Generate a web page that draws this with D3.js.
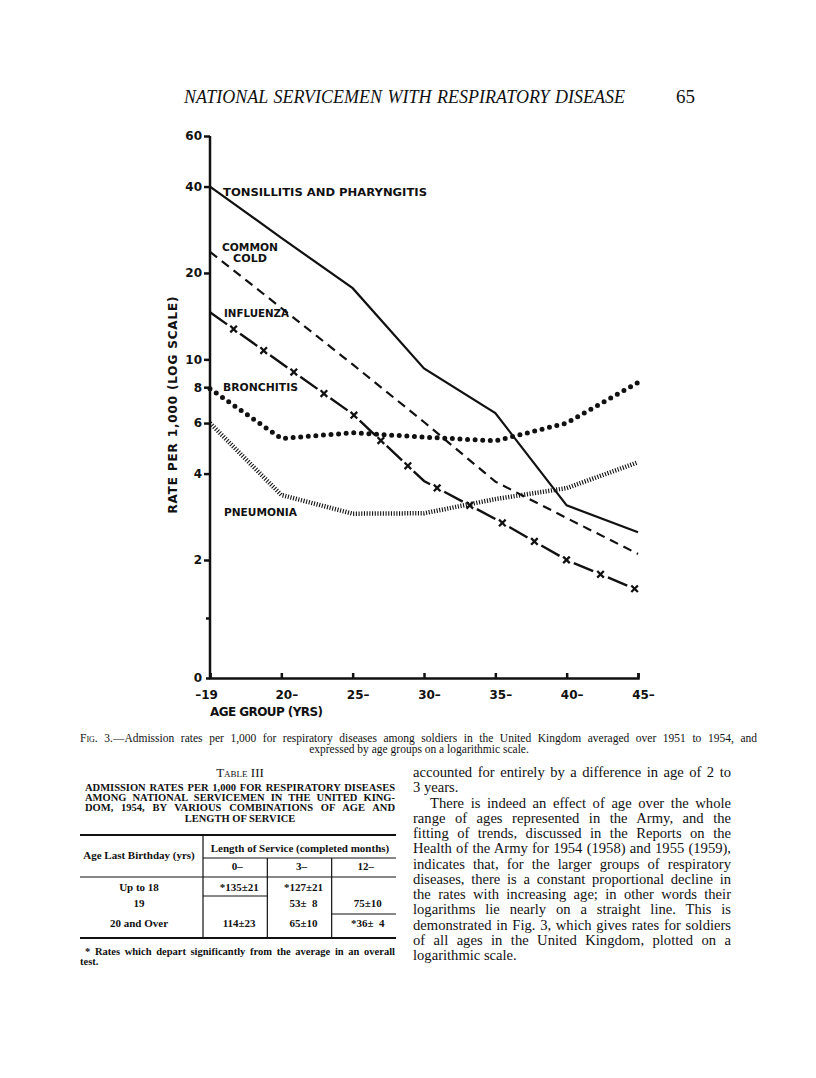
<!DOCTYPE html>
<html>
<head>
<meta charset="utf-8">
<script src="https://cdn.jsdelivr.net/npm/d3@7"></script>
<style>
  body { margin: 0; background: #fff; }
  svg text { fill: #111; }
  .sans { font-family: "DejaVu Sans", "Liberation Sans", sans-serif; font-weight: bold; }
  .serif { font-family: "Liberation Serif", "DejaVu Serif", serif; }
</style>
</head>
<body>
<svg id="page" width="816" height="1078"></svg>
<script>
// chart data
const ageGroups = ["-19", "20-", "25-", "30-", "35-", "40-", "45-"];
const tonsillitis = [40, 26.5, 17.7, 9.3, 6.5, 3.1, 2.5];
const commonCold = [23.7, 15.1, 9.6, 6.05, 3.75, 2.8, 2.1];
const influenza = [14.6, 9.7, 6.45, 3.77, 2.78, 2.0, 1.57];
const bronchitis = [7.9, 5.3, 5.55, 5.36, 5.2, 6.0, 8.3];
const pneumonia = [6.0, 3.37, 2.9, 2.91, 3.26, 3.56, 4.38];

const yTicks = [2, 4, 6, 8, 10, 20, 40, 60];
const lowTicks = [0, 1];
const lowLabels = ["0", ""];

// table III
const serviceCols = ["0\u2013", "3\u2013", "12\u2013"];
const ageRows = ["Up to 18", "19", "20 and Over"];
const tableCells = [
  ["*135\u00b121", "*127\u00b121", ""],
  ["", "53\u00b1\u20078", "75\u00b110"],
  ["114\u00b123", "65\u00b110", "*36\u00b1\u20074"]
];

const headingLines = [
  "ADMISSION RATES PER 1,000 FOR RESPIRATORY DISEASES",
  "AMONG NATIONAL SERVICEMEN IN THE UNITED KING-",
  "DOM, 1954, BY VARIOUS COMBINATIONS OF AGE AND",
  "LENGTH OF SERVICE"
];

const bodyLines = [
  "accounted for entirely by a difference in age of 2 to",
  "3 years.",
  "There is indeed an effect of age over the whole",
  "range of ages represented in the Army, and the",
  "fitting of trends, discussed in the Reports on the",
  "Health of the Army for 1954 (1958) and 1955 (1959),",
  "indicates that, for the larger groups of respiratory",
  "diseases, there is a constant proportional decline in",
  "the rates with increasing age; in other words their",
  "logarithms lie nearly on a straight line. This is",
  "demonstrated in Fig. 3, which gives rates for soldiers",
  "of all ages in the United Kingdom, plotted on a",
  "logarithmic scale."
];

const svg = d3.select("#page");

// stretch word gaps so a line fills its measure
function justify(sel, width) {
  sel.each(function() {
    const t = d3.select(this);
    const len = this.getComputedTextLength();
    const gaps = (t.text().match(/ /g) || []).length;
    if (gaps) t.style("word-spacing", ((width - len) / gaps) + "px");
  });
}

// ---------- running head ----------
svg.append("text").attr("class", "serif")
  .attr("x", 184).attr("y", 103)
  .style("font-style", "italic").style("font-size", "18px")
  .text("NATIONAL SERVICEMEN WITH RESPIRATORY DISEASE")
  .call(justify, 441);
svg.append("text").attr("class", "serif")
  .attr("x", 676).attr("y", 103).style("font-size", "19px")
  .text("65");

// ---------- chart ----------
const x = d3.scalePoint().domain(ageGroups).range([210, 638]);
const y = d3.scaleLog().domain([2, 60]).range([560, 136]);
const yLow = d3.scaleLinear().domain([0, 1]).range([678, 618]);

const chart = svg.append("g").attr("class", "sans");

const gx = chart.append("g")
  .attr("transform", `translate(0,${yLow(0)})`)
  .call(d3.axisBottom(x).tickSize(-5).tickPadding(12)
    .tickFormat(d => d.replace("-", "\u2013")));
gx.selectAll("text")
  .style("font-size", "12px").style("font-family", "DejaVu Sans").style("font-weight", "bold")
  .attr("dx", d => d.startsWith("-") ? -4 : 5);

const gy = chart.append("g")
  .attr("transform", `translate(${x(ageGroups[0])},0)`)
  .call(d3.axisLeft(y).tickValues(yTicks).tickFormat(d3.format("d")).tickSize(6).tickPadding(2));
gy.select(".domain").remove();

const gyLow = chart.append("g")
  .attr("transform", `translate(${x(ageGroups[0])},0)`)
  .call(d3.axisLeft(yLow).tickValues(lowTicks).tickFormat((d, i) => lowLabels[i]).tickSize(4).tickPadding(4));
gyLow.select(".domain").remove();

chart.append("line")
  .attr("x1", x(ageGroups[0])).attr("x2", x(ageGroups[0]))
  .attr("y1", y(60)).attr("y2", yLow(0))
  .attr("stroke", "#111").attr("stroke-width", 2.5);

chart.selectAll(".tick line, .domain").attr("stroke", "#111").attr("stroke-width", 2.5);
chart.selectAll(".tick text").attr("fill", "#111");
gy.selectAll("text").style("font-size", "12px").style("font-family", "DejaVu Sans").style("font-weight", "bold");
gyLow.selectAll("text").style("font-size", "12px").style("font-family", "DejaVu Sans").style("font-weight", "bold");

const line = d3.line().x((d, i) => x(ageGroups[i])).y(d => y(d));

const series = [
  { values: tonsillitis, width: 2.2, dash: null, cap: "butt" },
  { values: commonCold, width: 2.2, dash: "9 6", cap: "butt" },
  { values: influenza, width: 2.4, dash: "21 16", cap: "butt" },
  { values: bronchitis, width: 5, dash: "0 7.6", cap: "round" },
  { values: pneumonia, width: 4.5, dash: "1.1 1.6", cap: "butt" }
];

const paths = chart.selectAll(".series")
  .data(series).enter().append("path")
  .attr("class", "series")
  .attr("d", d => line(d.values))
  .attr("fill", "none")
  .attr("stroke", "#111")
  .attr("stroke-width", d => d.width)
  .attr("stroke-dasharray", d => d.dash)
  .attr("stroke-linecap", d => d.cap);

// crosses along the influenza line, sitting in the dash gaps
const fluPath = paths.filter((d, i) => i === 2).node();
const fluLen = fluPath.getTotalLength();
const crossAt = d3.range(29, fluLen + 2, 37);
chart.selectAll(".cross")
  .data(crossAt).enter().append("path")
  .attr("class", "cross")
  .attr("transform", d => {
    const p = fluPath.getPointAtLength(Math.min(d, fluLen));
    return `translate(${p.x},${p.y})`;
  })
  .attr("d", "M-3.3,-3.3L3.3,3.3M-3.3,3.3L3.3,-3.3")
  .attr("stroke", "#111").attr("stroke-width", 2.3);

// series labels
const x0 = x(ageGroups[0]);
const labels = [
  { text: "TONSILLITIS AND PHARYNGITIS", dx: 13, yy: y(40) + 9.5, len: 204 },
  { text: "COMMON", dx: 12, yy: y(commonCold[0]) - 1, len: 56 },
  { text: "COLD", dx: 23, yy: y(commonCold[0]) + 10, len: 34 },
  { text: "INFLUENZA", dx: 14, yy: y(influenza[0]) + 5, len: 65 },
  { text: "BRONCHITIS", dx: 13, yy: y(8) + 4, len: 75 },
  { text: "PNEUMONIA", dx: 14, yy: y(2.94) + 4, len: 73 }
];
chart.selectAll(".lab")
  .data(labels).enter().append("text")
  .attr("class", "lab")
  .attr("x", d => x0 + d.dx).attr("y", d => d.yy)
  .attr("textLength", d => d.len).attr("lengthAdjust", "spacingAndGlyphs")
  .style("font-size", "11px")
  .text(d => d.text);

// axis titles
chart.append("text")
  .attr("transform", `translate(177,${(y(60) + yLow(0)) / 2 - 2}) rotate(-90)`)
  .attr("text-anchor", "middle")
  .attr("textLength", 217).attr("lengthAdjust", "spacing")
  .style("font-size", "12px")
  .text("RATE PER 1,000 (LOG SCALE)");

chart.append("text")
  .attr("x", x0).attr("y", 716)
  .attr("textLength", 113).attr("lengthAdjust", "spacing")
  .style("font-size", "12px")
  .text("AGE GROUP (YRS)");

// ---------- caption ----------
const cap1 = svg.append("text").attr("class", "serif")
  .attr("x", 80).attr("y", 742).style("font-size", "11.5px");
cap1.append("tspan").style("font-variant", "small-caps").text("Fig. 3.");
cap1.append("tspan").text("\u2014Admission rates per 1,000 for respiratory diseases among soldiers in the United Kingdom averaged over 1951 to 1954, and");
cap1.call(justify, 677);
svg.append("text").attr("class", "serif")
  .attr("x", 419).attr("y", 753).attr("text-anchor", "middle")
  .style("font-size", "11.5px")
  .text("expressed by age groups on a logarithmic scale.");

// ---------- table III ----------
svg.append("text").attr("class", "serif")
  .attr("x", 240).attr("y", 777).attr("text-anchor", "middle")
  .style("font-size", "13px").style("font-variant", "small-caps")
  .text("Table III");

svg.selectAll(".head")
  .data(headingLines).enter().append("text")
  .attr("class", "serif head")
  .attr("x", (d, i) => i === 3 ? 240 : 85)
  .attr("y", (d, i) => 791 + i * 10.2)
  .attr("text-anchor", (d, i) => i === 3 ? "middle" : "start")
  .style("font-size", "10.5px").style("font-weight", "bold")
  .text(d => d)
  .filter((d, i) => i < 3).call(justify, 310);

const tb = svg.append("g").attr("class", "serif")
  .style("font-size", "11px").style("font-weight", "bold");
const colX = d3.scaleBand().domain(serviceCols).range([203, 396]);
const rowY = d3.scaleOrdinal().domain(ageRows).range([891, 906.5, 927]);

const rule = (x1, x2, y1, y2, w) => tb.append("line")
  .attr("x1", x1).attr("x2", x2).attr("y1", y1).attr("y2", y2)
  .attr("stroke", "#111").attr("stroke-width", w);

rule(80, 396, 835, 835, 2.2);
rule(80, 396, 938, 938, 2.2);
rule(80, 396, 877, 877, 1);
rule(203, 396, 858, 858, 1);
rule(203, 203, 835, 938, 1.2);
serviceCols.slice(1).forEach(c => rule(colX(c), colX(c), 858, 938, 1.2));
rule(203, colX(serviceCols[1]), 896, 896, 1);
rule(colX(serviceCols[2]), 396, 914, 914, 1);

tb.append("text").attr("x", 139).attr("y", 859).attr("text-anchor", "middle")
  .text("Age Last Birthday (yrs)");
tb.append("text").attr("x", 300).attr("y", 852).attr("text-anchor", "middle")
  .text("Length of Service (completed months)");
tb.selectAll(".colh").data(serviceCols).enter().append("text")
  .attr("x", d => colX(d) + colX.bandwidth() / 2 + 2).attr("y", 870)
  .attr("text-anchor", "middle").text(d => d);
tb.selectAll(".rowh").data(ageRows).enter().append("text")
  .attr("x", 139).attr("y", d => rowY(d))
  .attr("text-anchor", "middle").text(d => d);
ageRows.forEach((r, i) => {
  tableCells[i].forEach((v, j) => {
    if (!v) return;
    tb.append("text")
      .attr("x", colX(serviceCols[j]) + colX.bandwidth() / 2 + 4)
      .attr("y", rowY(r)).attr("text-anchor", "middle").text(v);
  });
});

svg.append("text").attr("class", "serif")
  .attr("x", 85).attr("y", 955)
  .style("font-size", "10.5px").style("font-weight", "bold")
  .text("* Rates which depart significantly from the average in an overall")
  .call(justify, 310);
svg.append("text").attr("class", "serif")
  .attr("x", 80).attr("y", 965)
  .style("font-size", "10.5px").style("font-weight", "bold")
  .text("test.");

// ---------- right-hand column ----------
const lastLines = [1, 12];
svg.selectAll(".body")
  .data(bodyLines).enter().append("text")
  .attr("class", "serif body")
  .attr("x", (d, i) => i === 2 ? 430 : 413)
  .attr("y", (d, i) => 777 + i * 15.25)
  .style("font-size", "14.6px")
  .text(d => d)
  .each(function(d, i) {
    if (!lastLines.includes(i)) d3.select(this).call(justify, i === 2 ? 301 : 318);
  });
</script>
</body>
</html>
